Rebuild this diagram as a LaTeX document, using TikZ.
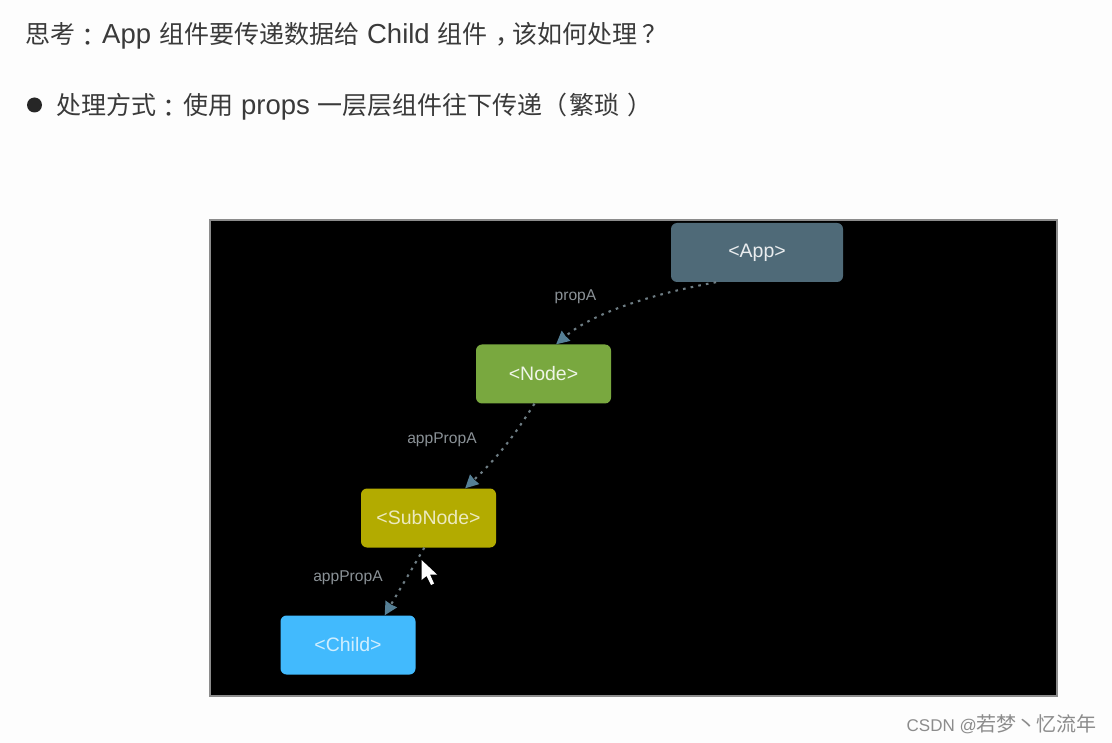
\documentclass[tikz,border=0pt]{standalone}
\usepackage{fontspec}
\setmainfont{Liberation Sans}
\newfontfamily\cjk{Noto Sans CJK SC}
\newfontfamily\cjktc{Noto Sans CJK TC}
\usetikzlibrary{arrows.meta}
\definecolor{pagebg}{HTML}{FDFDFD}
\definecolor{headtext}{HTML}{3A3A3A}
\definecolor{appfill}{HTML}{4F6A78}
\definecolor{nodefill}{HTML}{79A83F}
\definecolor{subfill}{HTML}{B3AB00}
\definecolor{childfill}{HTML}{42BAFD}
\definecolor{conn}{HTML}{6E7D84}
\definecolor{tipc}{HTML}{557F95}
\definecolor{lab}{HTML}{8A9196}
\definecolor{frameedge}{HTML}{8C8C8C}
\newcommand{\lat}[1]{{\fontsize{27.5}{30}\selectfont #1}}
\newcommand{\zh}[1]{{\cjk #1}}
\newcommand{\zhc}{\raisebox{-3pt}{\cjktc ：}}
\tikzset{
  x=1pt,y=-1pt,
  comp/.style={rounded corners=6pt,inner sep=0pt,minimum height=59pt,font=\fontsize{19.5}{22}\selectfont},
  edge/.style={draw=conn,line width=2.1pt,dash pattern=on 2.6pt off 5.2pt,
    -{Stealth[length=13pt,width=13pt,color=tipc,inset=0.5pt]}},
  elabel/.style={text=lab,font=\fontsize{15.6}{18}\selectfont,inner sep=0pt},
  head/.style={text=headtext,inner sep=0pt,anchor=base west,font=\fontsize{25}{30}\selectfont},
}
\begin{document}
\begin{tikzpicture}
\useasboundingbox[fill=pagebg] (0,0) rectangle (1112,743);
\node[head] (q) at (25,44) {\zh{思考}\zhc\hspace{2pt}\lat{App}\hspace{8pt}\zh{组件要传递数据给}\hspace{8pt}\lat{Child}\hspace{8pt}\zh{组件}\hspace{8pt}\makebox[17pt][l]{\zh{，}}\zh{该如何处理}\hspace{5pt}\zh{？}};
\fill[black!85] (34.5,105) circle (7.5pt);
\node[head] (way) at (56,115) {\zh{处理方式}\zhc\hspace{2pt}\zh{使用}\hspace{8pt}\lat{props}\hspace{8pt}\zh{一层层组件往下传递}\makebox[25pt][l]{\zh{（}}\hspace{1.5pt}\zh{繁琐}\hspace{8pt}\zh{）}};
\node[draw=frameedge,line width=1.2pt,fill=black,minimum width=847pt,minimum height=476pt,inner sep=0pt] (frame) at (633.5,458) {};
\node[comp,fill=appfill,minimum width=172pt,text=white!88!appfill] (app) at (757,252.5) {<App>};
\node[comp,fill=nodefill,minimum width=135pt,text=white!88!nodefill] (nd) at (543.5,374) {<Node>};
\node[comp,fill=subfill,minimum width=135pt,text=white!75!subfill] (sub) at (428.5,518) {<SubNode>};
\node[comp,fill=childfill,minimum width=135pt,text=white!75!childfill] (child) at (348,645) {<Child>};
\draw[edge] (app.-144.3) .. controls +(-70,13) and +(35,-30) .. (nd.67.4);
\draw[edge] (nd.-107.6) to[bend left=7] (sub.39.4);
\draw[edge] (sub.-98.7) -- (child.39.8);
\node[elabel] (l1) at (575.5,297) {propA};
\node[elabel] (l2) at (442,440) {appPropA};
\node[elabel] (l3) at (348,578) {appPropA};
\fill[white] (421.5,560) -- (421.5,580) -- (426.5,576) -- (431,585) -- (434,583.5) -- (430,574.5) -- (437,574.5) -- cycle;
\node[inner sep=0pt,anchor=east,text=black!45,font=\fontsize{17}{22}\selectfont] (mark) at (1097,724) {CSDN @{\cjk\fontsize{20}{22}\selectfont 若梦丶忆流年}};
\end{tikzpicture}
\end{document}
